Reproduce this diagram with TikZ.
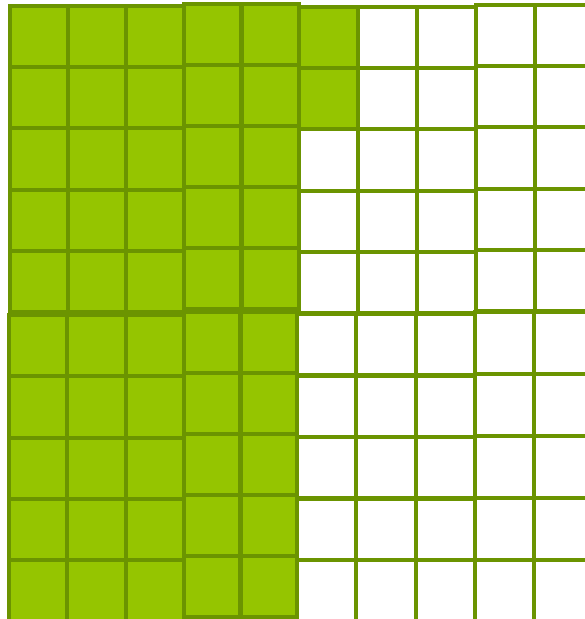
\documentclass[tikz,border=0pt]{standalone}
\usepackage{tikz}

\definecolor{leaf}{HTML}{95C500}
\definecolor{stem}{HTML}{6B9400}

\begin{document}
\begin{tikzpicture}[x=0.02cm, y=-0.02cm, cell/.style={draw=stem, line width=2.3pt}]
  % page frame (pixel units, y downwards)
  \useasboundingbox (0,0) rectangle (585,619);
  \clip (0,0) rectangle (585,619);

  % tiles: left/top/columns/cell width/cell height/filled columns/filled rows
  \foreach \xo/\yo/\nc/\w/\h/\fc/\fr in {
      10/6/3/58/61.2/3/5,    184/4/2/57.5/61/2/5,
      299/7/3/59/61.2/1/2,   476/5/3/59/61.2/0/0,
      9/315/3/58.3/61.3/3/5, 184/312/2/56.5/61/2/5,
      297/314/3/59.3/61.5/0/0, 475/312/3/59/62/0/0}{
    \foreach \i in {1,...,\nc}{
      \foreach \j in {1,...,5}{
        % filled or empty cell
        \ifnum\i>\fc \def\shade{white}\else
          \ifnum\j>\fr \def\shade{white}\else \def\shade{leaf}\fi\fi
        \draw[cell, fill=\shade] ({\xo+(\i-1)*\w}, {\yo+(\j-1)*\h}) rectangle ++(\w,\h);
      }
    }
  }
\end{tikzpicture}
\end{document}
